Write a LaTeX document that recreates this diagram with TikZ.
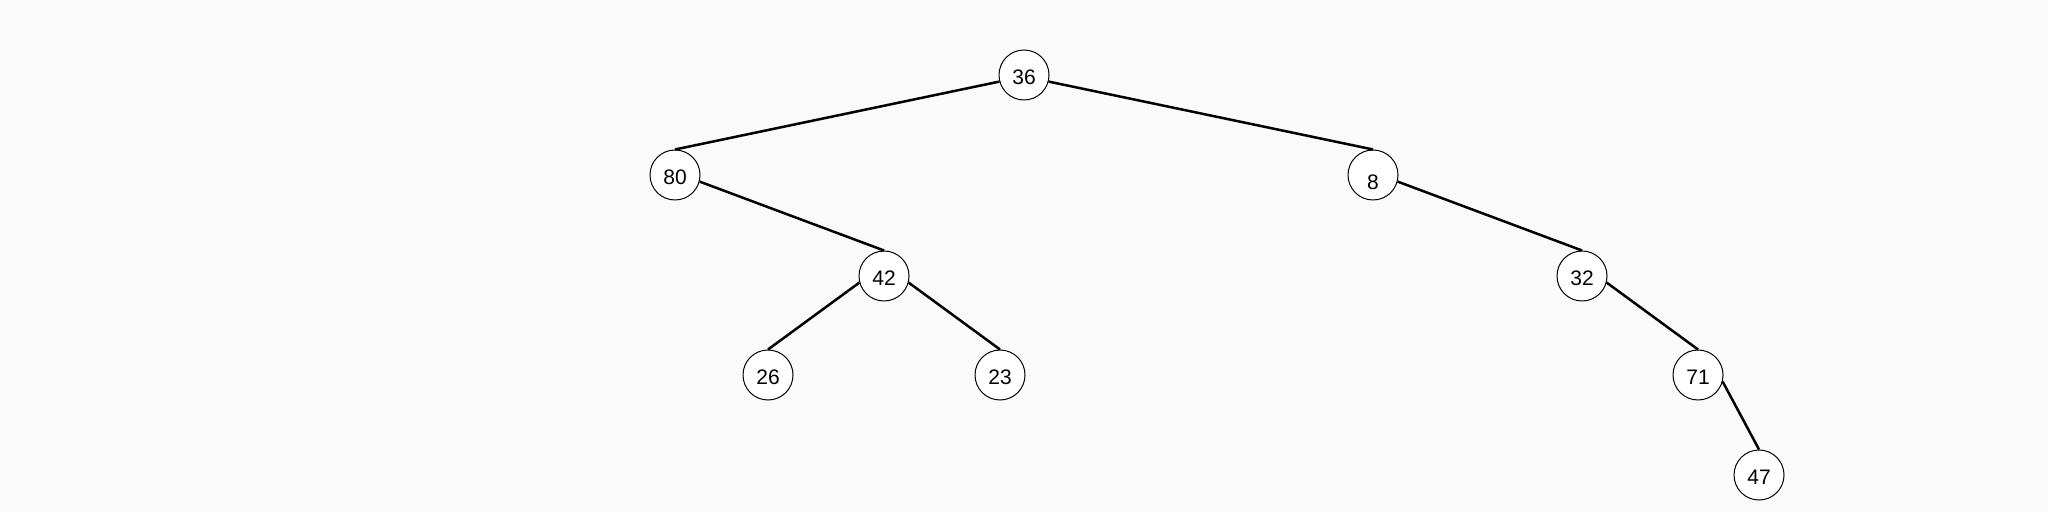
\documentclass[tikz,border=0pt]{standalone}
\usepackage{fontspec}
\setmainfont{Liberation Sans}
\definecolor{paper}{RGB}{250,250,250}
\newcommand{\lowdigit}[1]{\smash{\raisebox{-2.5pt}{#1}}}

\begin{document}
\begin{tikzpicture}[x=0.5pt,y=-0.5pt,
    vertex/.style={circle,draw=black,fill=white,line width=0.5pt,minimum size=25pt,inner sep=0pt,
      text height=9.5pt,text depth=0pt,font=\fontsize{10.5}{12}\selectfont},
    branch/.style={line width=1.25pt,black}]

    % background
    \fill[paper] (0,0) rectangle (2048,512);

    % draw vertices
    \foreach \name/\x/\y/\lbl in {v36/1024/75/36, v80/675/175/80, v8/1373/175/\lowdigit{8},
        v42/884/276/42, v32/1582/276/32, v26/768/375/26, v23/1000/375/23,
        v71/1698/375/71, v47/1759/475/47}
      \node[vertex] (\name) at (\x,\y) {\lbl};

    % left children
    \foreach \p/\c in {v36/v80, v42/v26}
      \draw[branch] (\p.195) -- (\c.north);
    % right children
    \foreach \p/\c in {v36/v8, v80/v42, v42/v23, v8/v32, v32/v71, v71/v47}
      \draw[branch] (\p.-15) -- (\c.north);
\end{tikzpicture}
\end{document}
